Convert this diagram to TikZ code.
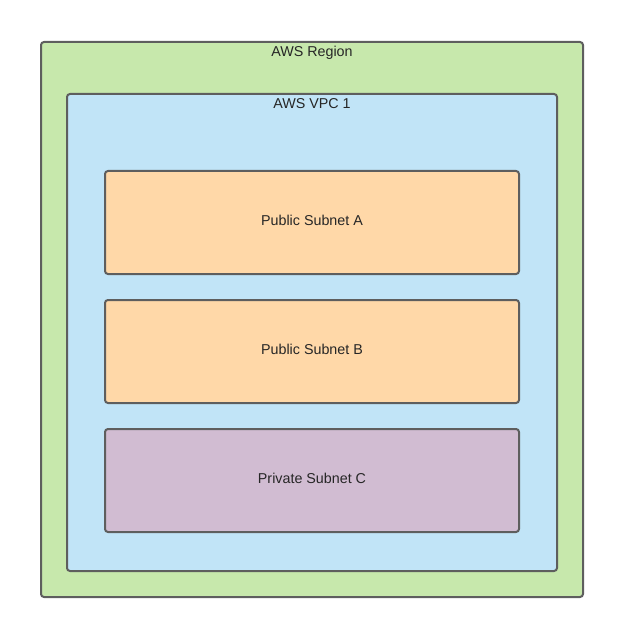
\documentclass[tikz,border=0pt]{standalone}
\usepackage{fontspec}
\setmainfont{Liberation Sans}
\definecolor{regionfill}{HTML}{C7E8AC}
\definecolor{vpcfill}{HTML}{C1E4F7}
\definecolor{pubfill}{HTML}{FFD8A8}
\definecolor{privfill}{HTML}{D1BCD2}
\definecolor{edge}{HTML}{5E5E5E}
\tikzset{
  box/.style={draw=edge, line width=2pt, rounded corners=3pt},
  lbl/.style={font=\fontsize{14.3}{16}\selectfont, text=black!85, inner sep=0pt}
}
\begin{document}
\begin{tikzpicture}[x=1pt,y=-1pt]
\useasboundingbox (0,0) rectangle (624,639);
\draw[box, fill=regionfill] (41,42) rectangle (583,597);
\node[lbl] (region) at (312,52.5) {AWS Region};
\draw[box, fill=vpcfill] (67,94) rectangle (557,571);
\node[lbl] (vpc) at (312,104) {AWS VPC 1};
\draw[box, fill=pubfill] (105,171) rectangle (519,274);
\node[lbl] (a) at (312,220.5) {Public Subnet A};
\draw[box, fill=pubfill] (105,300) rectangle (519,403);
\node[lbl] (b) at (312,349.5) {Public Subnet B};
\draw[box, fill=privfill] (105,429) rectangle (519,532);
\node[lbl] (c) at (312,478.5) {Private Subnet C};
\end{tikzpicture}
\end{document}
